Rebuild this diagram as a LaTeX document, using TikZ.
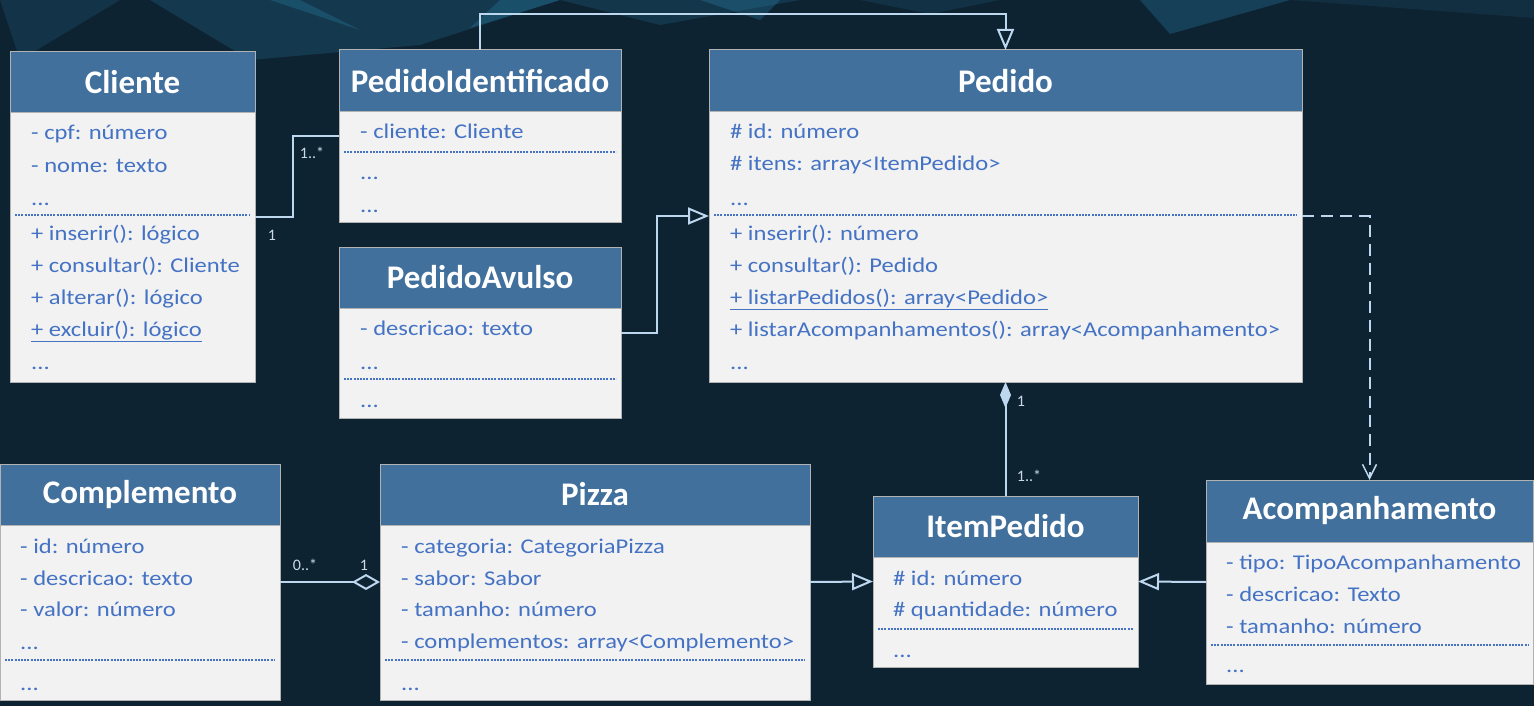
\documentclass[tikz,border=0pt]{standalone}
\usepackage{fontspec}
\setmainfont{Carlito}
\newfontfamily\classtextfont{Carlito}[FakeStretch=1.17]
\usetikzlibrary{arrows.meta}
\definecolor{bg}{HTML}{0E2332}
\definecolor{headfill}{HTML}{41709C}
\definecolor{bodyfill}{HTML}{F2F2F2}
\definecolor{txt}{HTML}{4472C4}
\definecolor{conncol}{HTML}{BDD7EE}
\definecolor{labcol}{HTML}{C9D9E8}
\definecolor{glow}{HTML}{2B86B0}
\tikzset{
  classbody/.style={draw=gray!60, line width=1pt, fill=bodyfill, inner sep=0pt, outer sep=0pt},
  classhead/.style={draw=gray!60, line width=1pt, fill=headfill, inner sep=0pt, outer sep=0pt,
     text=white, font=\fontsize{33}{38}\selectfont\bfseries},
  attr/.style={anchor=base west, inner sep=0pt, text=txt, font=\classtextfont\fontsize{21}{25}\selectfont},
  sepline/.style={draw=txt, line width=1.3pt, dash pattern=on 2pt off 1.2pt},
  conn/.style={draw=conncol, line width=2pt},
  gen/.style={conn, -{Triangle[open, length=21pt, width=17pt, line width=2pt]}},
  depend/.style={conn, dash pattern=on 12pt off 7pt, -{Straight Barb[length=14pt, width=14pt, line width=1.5pt]}},
  mult/.style={text=labcol, font=\fontsize{16}{18}\selectfont, inner sep=0pt}
}
\newcommand\umlclass[7]{%
  \node[classbody, minimum width={#4-#2}, minimum height={#5-#3}] (#1) at ({(#2+#4)/2},{(#3+#5)/2}) {};
  \node[classhead, minimum width={#4-#2}, minimum height={#6}, anchor=north] (#1-h) at (#1.north) {#7};
}
\begin{document}
\begin{tikzpicture}[x=1pt,y=-1pt]
\fill[bg] (0,0) rectangle (1534,706);
\useasboundingbox (0,0) rectangle (1534,706);
% faint background network
\begin{scope}[fill=glow]
\fill[opacity=0.18] (0,0) -- (120,0) -- (20,60) -- cycle;
\fill[opacity=0.22] (150,0) -- (560,0) -- (420,45) -- (250,60) -- cycle;
\fill[opacity=0.3] (270,0) -- (300,0) -- (360,30) -- cycle;
\fill[opacity=0.3] (500,0) -- (560,0) -- (470,28) -- cycle;
\fill[opacity=0.2] (560,0) -- (800,0) -- (660,25) -- cycle;
\fill[opacity=0.3] (700,0) -- (780,0) -- (760,20) -- cycle;
\fill[opacity=0.15] (860,0) -- (1000,0) -- (930,14) -- cycle;
\fill[opacity=0.3] (1140,0) -- (1290,0) -- (1170,34) -- cycle;
\fill[opacity=0.12] (1290,0) -- (1534,0) -- (1534,18) -- cycle;
\end{scope}

% ---------- Cliente
\umlclass{cli}{10}{52}{255}{382}{61}{Cliente}
\node[attr] (cli-1) at (31,140) {- cpf: número};
\node[attr] (cli-2) at (31,172) {- nome: texto};
\node[attr] (cli-3) at (31,205) {...};
\draw[sepline] (15,215) -- (250,215);
\node[attr] (cli-4) at (31,240) {+ inserir(): lógico};
\node[attr] (cli-5) at (31,272) {+ consultar(): Cliente};
\node[attr] (cli-6) at (31,304) {+ alterar(): lógico};
\node[attr] (cli-7) at (31,336) {\underline{+ excluir(): lógico}};
\node[attr] (cli-8) at (31,369) {...};

% ---------- PedidoIdentificado
\umlclass{pid}{339}{50}{621}{222}{62}{PedidoIdentificado}
\node[attr] (pid-1) at (360,139) {- cliente: Cliente};
\draw[sepline] (344,152) -- (616,152);
\node[attr] (pid-2) at (360,179) {...};
\node[attr] (pid-3) at (360,212) {...};

% ---------- PedidoAvulso
\umlclass{pav}{339}{247}{621}{418}{61}{PedidoAvulso}
\node[attr] (pav-1) at (360,335) {- descricao: texto};
\node[attr] (pav-2) at (360,369) {...};
\draw[sepline] (344,379) -- (616,379);
\node[attr] (pav-3) at (360,407) {...};

% ---------- Pedido
\umlclass{ped}{709}{50}{1302}{382}{62}{Pedido}
\node[attr] (ped-1) at (730,139) {\# id: número};
\node[attr] (ped-2) at (730,171) {\# itens: array<ItemPedido>};
\node[attr] (ped-3) at (730,205) {...};
\draw[sepline] (714,215) -- (1297,215);
\node[attr] (ped-4) at (730,240) {+ inserir(): número};
\node[attr] (ped-5) at (730,272) {+ consultar(): Pedido};
\node[attr] (ped-6) at (730,304) {\underline{+ listarPedidos(): array<Pedido>}};
\node[attr] (ped-7) at (730,336) {+ listarAcompanhamentos(): array<Acompanhamento>};
\node[attr] (ped-8) at (730,369) {...};

% ---------- Complemento
\umlclass{comp}{0}{464}{280}{700}{61}{Complemento}
\node[attr] (comp-1) at (20,553) {- id: número};
\node[attr] (comp-2) at (20,585) {- descricao: texto};
\node[attr] (comp-3) at (20,616) {- valor: número};
\node[attr] (comp-4) at (20,649) {...};
\draw[sepline] (5,660) -- (275,660);
\node[attr] (comp-5) at (20,690) {...};

% ---------- Pizza
\umlclass{piz}{380}{464}{810}{700}{61}{Pizza}
\node[attr] (piz-1) at (401,553) {- categoria: CategoriaPizza};
\node[attr] (piz-2) at (401,585) {- sabor: Sabor};
\node[attr] (piz-3) at (401,616) {- tamanho: número};
\node[attr] (piz-4) at (401,648) {- complementos: array<Complemento>};
\draw[sepline] (385,660) -- (805,660);
\node[attr] (piz-5) at (401,690) {...};

% ---------- ItemPedido
\umlclass{item}{873}{496}{1138}{667}{61}{ItemPedido}
\node[attr] (item-1) at (893,585) {\# id: número};
\node[attr] (item-2) at (893,616) {\# quantidade: número};
\draw[sepline] (878,629) -- (1133,629);
\node[attr] (item-3) at (893,657) {...};

% ---------- Acompanhamento
\umlclass{acp}{1206}{480}{1533}{684}{62}{Acompanhamento}
\node[attr] (acp-1) at (1226,569) {- tipo: TipoAcompanhamento};
\node[attr] (acp-2) at (1226,601) {- descricao: Texto};
\node[attr] (acp-3) at (1226,633) {- tamanho: número};
\draw[sepline] (1211,645) -- (1528,645);
\node[attr] (acp-4) at (1226,672) {...};

% ---------- connectors
\draw[conn] (cli.east) -- ++(38,0) |- (pid.west);
\node[mult] at (272,235) {1};
\node[mult] at (312,153) {1..*};

\draw[gen] (pid.north) -- ++(0,-36) -| (ped.north);
\draw[gen] (pav.east) -- ++(36,0) |- (ped.west);
\draw[depend] (ped.east) -| (acp.north);

\draw[conn, {Diamond[length=26pt, width=11pt]}-] (ped.south) -- (item.north);
\node[mult] at (1021,401) {1};
\node[mult] at (1029,476) {1..*};

\draw[conn, -{Diamond[open, length=28pt, width=16pt, line width=2pt]}] (comp.east) -- (piz.west);
\node[mult] at (305,565) {0..*};
\node[mult] at (364,565) {1};

\draw[gen] (piz.east) -- (item.west);
\draw[gen] (acp.west) -- (item.east);
\end{tikzpicture}
\end{document}
